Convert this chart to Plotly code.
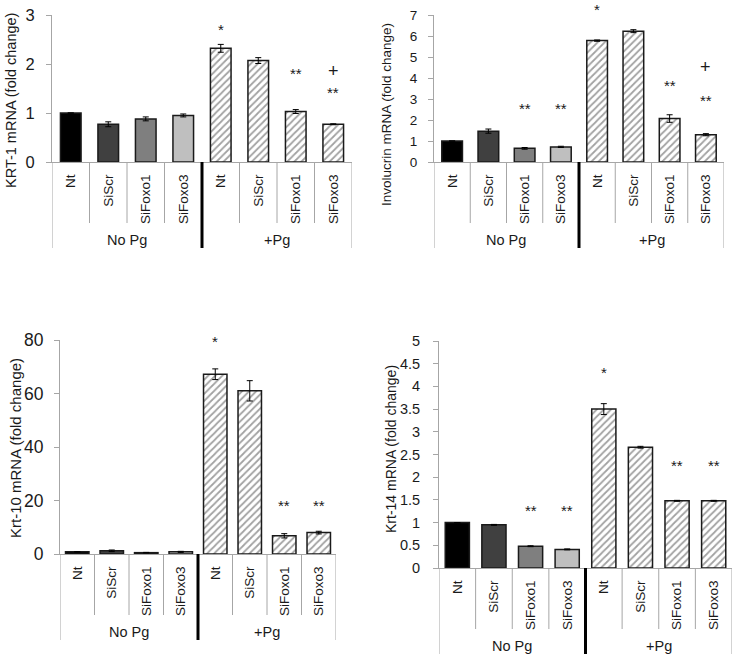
import plotly.graph_objects as go

# ---------------- data ----------------
categories = ["Nt", "SiScr", "SiFoxo1", "SiFoxo3", "Nt", "SiScr", "SiFoxo1", "SiFoxo3"]
groups = ["No Pg", "+Pg"]

krt1 = [1.00, 0.77, 0.88, 0.95, 2.32, 2.07, 1.03, 0.77]
krt1_err = [0.00, 0.05, 0.04, 0.03, 0.08, 0.06, 0.04, 0.01]

involucrin = [1.00, 1.47, 0.65, 0.72, 5.78, 6.23, 2.07, 1.30]
involucrin_err = [0.00, 0.10, 0.04, 0.03, 0.03, 0.07, 0.18, 0.05]

krt10 = [0.8, 1.2, 0.5, 0.8, 67.2, 61.0, 6.8, 8.0]
krt10_err = [0.1, 0.3, 0.1, 0.2, 2.0, 3.8, 0.8, 0.5]

krt14 = [1.00, 0.95, 0.48, 0.41, 3.50, 2.66, 1.48, 1.48]
krt14_err = [0.00, 0.01, 0.01, 0.01, 0.12, 0.02, 0.01, 0.01]

# significance marks: (category index, text, y value)
krt1_marks = [(4, "*", 2.76), (6, "**", 1.86), (7, "+", 1.86), (7, "**", 1.47)]
involucrin_marks = [(2, "**", 2.67), (3, "**", 2.67), (4, "*", 7.4),
                    (6, "**", 3.77), (7, "+", 4.5), (7, "**", 3.05)]
krt10_marks = [(4, "*", 80.4), (6, "**", 19.4), (7, "**", 19.4)]
krt14_marks = [(4, "*", 4.38), (6, "**", 2.33), (7, "**", 2.33),
               (2, "**", 1.34), (3, "**", 1.34)]

y_titles = ["KRT-1 mRNA (fold change)", "Involucrin mRNA (fold change)",
            "Krt-10 mRNA (fold change)", "Krt-14 mRNA (fold change)"]
y_ranges = [[0, 3], [0, 7], [0, 80], [0, 5]]
y_dtick = [1, 1, 20, 0.5]

# ---------------- styles / geometry ----------------
W, H = 734, 661
FONT = "Liberation Sans, Arial, sans-serif"
fill_colors = ["#000000", "#404040", "#7f7f7f", "#bfbfbf", "#ffffff", "#ffffff", "#ffffff", "#ffffff"]
pattern_shapes = ["", "", "", "", "/", "/", "/", "/"]
pattern_fg = ["#000000", "#000000", "#000000", "#000000", "#1a1a1a", "#4a4a4a", "#5e5e5e", "#8f8f8f"]
GRID = "#a6a6a6"

# panel pixel boxes: x0, x1, ytop, ybot
panels = [
    dict(box=(52, 352, 15, 162), bw=0.55, tick=16.5, stand=8, ttl_x=11, ttl_y=101, ttl_size=14.5),
    dict(box=(434, 724, 15, 162), bw=0.57, tick=13.5, stand=8, ttl_x=386, ttl_y=115, ttl_size=13.5),
    dict(box=(60, 336, 340, 554), bw=0.68, tick=17.5, stand=7, ttl_x=15, ttl_y=448, ttl_size=15),
    dict(box=(439, 732, 341, 568), bw=0.66, tick=14.5, stand=10, ttl_x=391, ttl_y=449, ttl_size=14),
]
SHORT, LONG, GROUP_Y = 61, 86, 78

values = [krt1, involucrin, krt10, krt14]
errors = [krt1_err, involucrin_err, krt10_err, krt14_err]
marks = [krt1_marks, involucrin_marks, krt10_marks, krt14_marks]

fig = go.Figure()
layout = dict(width=W, height=H,
              margin=dict(l=0, r=0, t=0, b=0, pad=0, autoexpand=False),
              autosize=False,
              plot_bgcolor="white", paper_bgcolor="white", showlegend=False,
              font=dict(family=FONT, color="#1a1a1a"))
shapes, annotations = [], []
xpos = list(range(len(categories)))

def px_x(p):
    return p / W

def px_y(p):
    return 1 - p / H

for i, p in enumerate(panels):
    n = "" if i == 0 else str(i + 1)
    x0, x1, yt, yb = p["box"]
    fig.add_trace(go.Bar(
        x=xpos, y=values[i], width=p["bw"],
        xaxis="x" + n, yaxis="y" + n, hoverinfo="skip",
        marker=dict(color=fill_colors,
                    line=dict(color="#1a1a1a", width=1.5),
                    pattern=dict(shape=pattern_shapes, fgcolor=pattern_fg,
                                 fillmode="overlay", size=5, solidity=0.35)),
        error_y=dict(type="data", array=errors[i], visible=True,
                     color="#000000", thickness=1, width=3),
    ))
    layout["xaxis" + n] = dict(
        domain=[px_x(x0), px_x(x1)], anchor="y" + n, range=[-0.5, 7.5],
        tickmode="array", tickvals=xpos, ticktext=categories, tickangle=-90,
        ticks="", showline=True, linecolor=GRID, linewidth=1, showgrid=False,
        zeroline=False, ticklabelstandoff=6, automargin=False,
        tickfont=dict(family=FONT, size=13.5, color="#1a1a1a"), fixedrange=True)
    layout["yaxis" + n] = dict(
        domain=[px_y(yb), px_y(yt)], anchor="x" + n, range=y_ranges[i],
        dtick=y_dtick[i], tick0=0, ticks="outside", ticklen=5, tickcolor=GRID,
        showline=True, linecolor=GRID, linewidth=1, showgrid=False, zeroline=False,
        ticklabelstandoff=p["stand"], automargin=False,
        tickfont=dict(family=FONT, size=p["tick"], color="#1a1a1a"), fixedrange=True)
    # category divider lines
    for b in [-0.5, 0.5, 1.5, 2.5, 4.5, 5.5, 6.5, 7.5]:
        length = LONG if b in (-0.5, 7.5) else SHORT
        shapes.append(dict(type="line", xref="x" + n, yref="paper",
                           x0=b, x1=b, y0=px_y(yb), y1=px_y(yb + length),
                           line=dict(color=GRID, width=1)))
    shapes.append(dict(type="line", xref="x" + n, yref="paper",
                       x0=3.5, x1=3.5, y0=px_y(yb), y1=px_y(yb + LONG),
                       line=dict(color="#000000", width=3)))
    # group labels
    for g, gx in zip(groups, [1.5, 5.5]):
        annotations.append(dict(text=g, xref="x" + n, yref="paper", x=gx,
                                y=px_y(yb + GROUP_Y), showarrow=False,
                                xanchor="center", yanchor="middle",
                                font=dict(family=FONT, size=14.5, color="#1a1a1a")))
    # y title
    annotations.append(dict(text=y_titles[i], xref="paper", yref="paper",
                            x=px_x(p["ttl_x"]), y=px_y(p["ttl_y"]), textangle=-90,
                            showarrow=False, xanchor="center", yanchor="middle",
                            font=dict(family=FONT, size=p["ttl_size"], color="#1a1a1a")))
    # significance marks (positioned on the y axis scale via its domain so that
    # marks above the axis maximum are still drawn)
    ymin, ymax = y_ranges[i]
    for idx, txt, yv in marks[i]:
        annotations.append(dict(text=txt, xref="x" + n, yref="y" + n + " domain",
                                x=idx, y=(yv - ymin) / (ymax - ymin),
                                showarrow=False, xanchor="center", yanchor="middle",
                                yshift=-3 if "*" in txt else 0,
                                font=dict(family=FONT, size=15 if "*" in txt else 18,
                                          color="#1a1a1a")))

layout["shapes"] = shapes
layout["annotations"] = annotations
fig.update_layout(**layout)

page_fix = (
    "document.documentElement.style.margin='0';"
    "document.documentElement.style.overflow='hidden';"
    "document.body.style.margin='0';document.body.style.padding='0';"
    "document.body.style.overflow='hidden';"
    "var d=document.getElementsByClassName('plotly-graph-div')[0];"
    "d.style.position='fixed';d.style.top='0px';d.style.left='0px';"
)
fig.write_html("out.html", config={"displayModeBar": False, "staticPlot": True},
               post_script=page_fix)
